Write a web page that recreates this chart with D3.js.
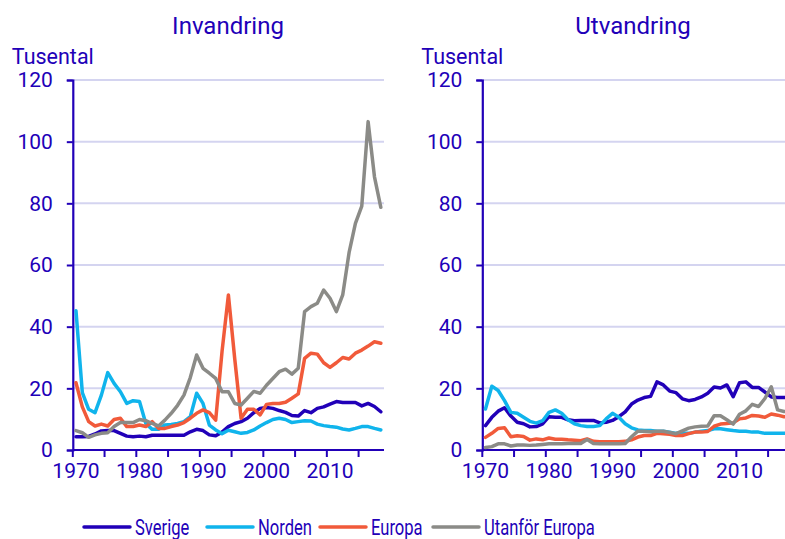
<!DOCTYPE html>
<html>
<head>
<meta charset="utf-8">
<script src="https://cdn.jsdelivr.net/npm/d3@7"></script>
<style>
  body { margin: 0; background: #fff; }
  svg { display: block; font-family: Roboto, "Noto Sans", sans-serif; }
</style>
</head>
<body>
<svg id="chart" width="785" height="539"></svg>
<script>
// år 1970-2018
let years = d3.range(1970, 2019);
let seriesNames = ["Sverige", "Norden", "Europa", "Utanför Europa"];
let yTicks = [0, 20, 40, 60, 80, 100, 120];
let xLabels = [1970, 1980, 1990, 2000, 2010];
let panelTitles = ["Invandring", "Utvandring"];

// Invandring, tusental
let invSverige = [4.3,4.3,4.4,5.2,6.2,6.3,6.3,5.4,4.5,4.3,4.5,4.3,4.8,4.8,4.8,4.8,4.8,4.8,5.9,6.7,6.3,4.9,4.6,5.8,7.6,8.6,9.2,10.3,12.1,13.5,13.8,13.5,12.8,12.2,11.2,11.0,12.8,12.1,13.5,14.0,14.9,15.7,15.4,15.4,15.4,14.3,15.1,14.1,12.4];
let invNorden = [45.2,18.6,13.2,12.1,17.8,25.1,21.6,18.9,15.1,16.0,15.7,8.6,6.7,6.7,8.1,8.3,8.6,9.2,10.8,18.4,15.1,8.1,6.5,5.3,6.4,5.9,5.4,5.7,6.5,7.8,8.9,9.9,10.3,9.9,8.9,9.2,9.5,9.4,8.4,7.9,7.6,7.4,6.8,6.5,7.0,7.6,7.6,7.0,6.5];
let invEuropa = [21.8,14.0,9.2,7.8,8.4,7.8,9.9,10.3,7.6,7.6,8.1,7.6,9.2,7.0,7.0,7.6,8.1,8.9,10.3,11.9,13.0,12.1,9.7,32.0,50.3,29.5,10.3,13.2,13.2,11.4,14.8,15.1,15.1,15.5,16.8,18.2,29.7,31.4,31.1,28.3,26.8,28.3,30.0,29.5,31.4,32.4,33.7,35.1,34.6];
let invUtanfor = [6.3,5.6,4.1,4.9,5.4,5.6,7.6,8.9,8.9,8.9,9.9,9.5,8.6,7.8,9.7,11.9,14.5,17.8,23.5,30.8,26.5,24.9,23.2,18.9,18.9,15.1,14.6,16.8,19.0,18.4,21.0,23.2,25.4,26.2,24.6,26.5,44.9,46.5,47.6,51.9,49.2,44.9,50.3,64.0,73.5,79.1,106.5,88.6,78.7];

// Utvandring, tusental
let utvSverige = [7.9,10.6,12.6,13.7,11.0,9.0,8.5,7.5,7.6,8.5,10.8,10.6,10.6,9.8,9.5,9.6,9.6,9.6,8.8,9.0,9.6,10.8,12.4,14.9,16.2,17.0,17.4,22.1,21.1,19.1,18.6,16.6,16.0,16.4,17.2,18.4,20.4,20.1,21.1,17.3,21.8,22.1,20.3,20.3,18.8,17.2,17.0,17.0,17.0];
let utvNorden = [13.3,20.7,19.3,16.0,12.2,11.9,10.6,9.3,8.7,9.5,12.2,13.0,11.9,9.8,8.5,7.9,7.6,7.6,7.9,10.1,11.9,10.6,8.5,7.2,6.5,6.3,6.3,6.1,6.1,5.8,5.4,5.4,5.4,5.8,6.1,6.3,6.9,6.9,6.6,6.3,6.1,6.1,5.8,5.8,5.4,5.4,5.4,5.4,5.4];
let utvEuropa = [4.1,5.4,7.0,7.2,4.3,4.6,4.4,3.2,3.6,3.3,3.9,3.5,3.5,3.3,3.2,3.0,3.6,2.8,2.7,2.7,2.7,2.7,2.8,3.3,4.2,4.7,4.7,5.4,5.3,5.1,4.7,4.7,5.3,5.8,5.8,6.0,7.7,8.4,8.6,8.8,10.1,10.4,11.2,11.0,10.6,11.7,11.3,10.8,10.7];
let utvUtanfor = [0.8,1.1,2.0,2.0,1.3,1.6,1.6,1.5,1.6,1.8,2.0,2.0,2.0,2.1,2.1,2.1,3.4,2.1,2.0,2.0,2.0,2.0,2.1,4.3,6.1,6.1,5.9,6.1,6.1,5.7,5.3,6.2,7.1,7.5,7.7,7.8,11.1,11.1,9.8,8.4,11.6,12.7,14.8,14.1,16.7,20.5,13.0,12.5,12.4];

const ink = "#2100b8";
const colors = ["#2100b8", "#10b4ec", "#f15a3a", "#8b8b87"];
const grid = "#d4d4f0";

const svg = d3.select("#chart");

const panels = [
  {title: panelTitles[0], series: [invSverige, invNorden, invEuropa, invUtanfor], left: 72.8, titleX: 228},
  {title: panelTitles[1], series: [utvSverige, utvNorden, utvEuropa, utvUtanfor], left: 482.3, titleX: 633}
];

const plotTop = 80, plotBottom = 450, plotW = 311.2;

panels.forEach(p => drawPanel(p));

function drawPanel(p) {
  const g = svg.append("g");
  const x = d3.scaleLinear().domain([1969.5, 2018.5]).range([p.left, p.left + plotW]);
  const y = d3.scaleLinear().domain([0, 120]).range([plotBottom, plotTop]);

  // gridlines
  g.append("g")
    .selectAll("line")
    .data(yTicks.filter(d => d > 0))
    .join("line")
    .attr("x1", p.left).attr("x2", p.left + plotW)
    .attr("y1", d => y(d)).attr("y2", d => y(d))
    .attr("stroke", grid).attr("stroke-width", 2);

  // y axis
  const yAxis = g.append("g")
    .attr("transform", `translate(${p.left},0)`)
    .call(d3.axisLeft(y).tickValues(yTicks).tickSize(6).tickPadding(14));
  yAxis.select(".domain").attr("stroke", ink).attr("stroke-width", 2.2);
  yAxis.selectAll(".tick line").attr("stroke", ink).attr("stroke-width", 2);
  yAxis.selectAll(".tick text").attr("fill", ink).attr("font-size", 21)
    .attr("font-family", "Roboto");

  // x axis: ticks between categories, labels on categories
  const xAxis = g.append("g").attr("transform", `translate(0,${plotBottom})`);
  xAxis.append("line")
    .attr("x1", x(1969.5)).attr("x2", x(2018.5))
    .attr("stroke", ink).attr("stroke-width", 2.2);
  xAxis.selectAll("line.tk")
    .data(d3.range(1969.5, 2018, 5))
    .join("line").attr("class", "tk")
    .attr("x1", d => x(d)).attr("x2", d => x(d))
    .attr("y1", 0).attr("y2", 7)
    .attr("stroke", ink).attr("stroke-width", 2);
  xAxis.selectAll("text")
    .data(xLabels)
    .join("text")
    .attr("x", d => x(d)).attr("y", 28)
    .attr("text-anchor", "middle")
    .attr("fill", ink).attr("font-size", 21)
    .text(d => d);

  // lines
  const line = d3.line().x((d, i) => x(years[i])).y(d => y(d));
  g.append("g")
    .selectAll("path")
    .data(p.series)
    .join("path")
    .attr("d", line)
    .attr("fill", "none")
    .attr("stroke", (d, i) => colors[i])
    .attr("stroke-width", 3.5)
    .attr("stroke-linejoin", "round")
    .attr("stroke-linecap", "round");

  // titles
  g.append("text")
    .attr("x", p.titleX).attr("y", 34)
    .attr("text-anchor", "middle")
    .attr("fill", ink).attr("font-size", 24)
    .text(p.title);
  g.append("text")
    .attr("x", p.left - 61).attr("y", 64)
    .attr("fill", ink).attr("font-size", 21.5)
    .text("Tusental");
}

// legend (narrow text, like the condensed font in the original)
const legendX = [84, 207, 320, 433];
const leg = svg.append("g").attr("transform", "translate(0,527)")
  .selectAll("g")
  .data(seriesNames)
  .join("g")
  .attr("transform", (d, i) => `translate(${legendX[i]},0)`);
leg.append("line")
  .attr("x1", 0).attr("x2", 46)
  .attr("stroke", (d, i) => colors[i])
  .attr("stroke-width", 3.5)
  .attr("stroke-linecap", "round");
leg.append("text")
  .attr("x", 51).attr("y", 8)
  .attr("fill", ink).attr("font-size", 21.5)
  .text(d => d)
  .each(function() {
    const w = this.getComputedTextLength();
    d3.select(this).attr("textLength", w * 0.77).attr("lengthAdjust", "spacingAndGlyphs");
  });
</script>
</body>
</html>
